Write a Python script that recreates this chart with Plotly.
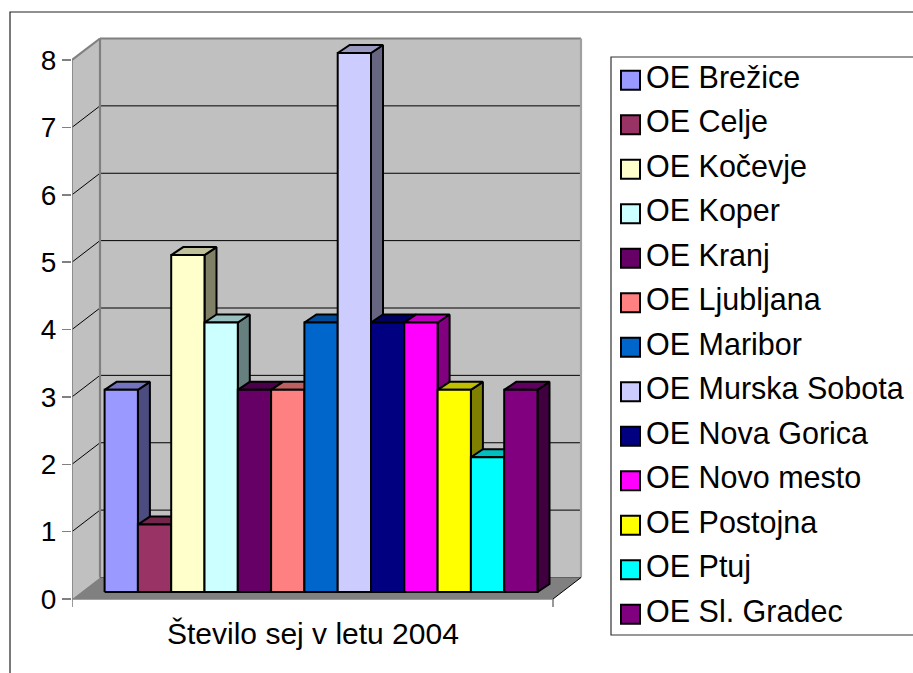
import plotly.graph_objects as go

# ---------------- data ----------------
categories = ["OE Brežice", "OE Celje", "OE Kočevje", "OE Koper", "OE Kranj",
              "OE Ljubljana", "OE Maribor", "OE Murska Sobota", "OE Nova Gorica",
              "OE Novo mesto", "OE Postojna", "OE Ptuj", "OE Sl. Gradec"]
values = [3, 1, 5, 4, 3, 3, 4, 8, 4, 4, 3, 2, 3]
colors = ["#9999FF", "#993366", "#FFFFCC", "#CCFFFF", "#660066", "#FF8080",
          "#0066CC", "#CCCCFF", "#000080", "#FF00FF", "#FFFF00", "#00FFFF", "#800080"]
y_ticks = [0, 1, 2, 3, 4, 5, 6, 7, 8]
x_label = "Število sej v letu 2004"

# ---------------- geometry (pixels / value units) ----------------
W = 913
SY = 678 / 673          # viewport compensation (rendered page is slightly taller)
H = round(673 * SY)


def py(p):
    """target pixel row -> css pixel row"""
    return p * SY


PXU = 67.375 * SY       # pixels per value unit
Y0PX = py(599)          # pixel row of value 0 on front plane
X0, X1 = 72, 553        # front-left / front-right of floor (px)
DX = 28                 # depth shift in px
DY = 21.5 / 67.375      # depth shift in value units
YMAX = max(y_ticks)
BAR_START, BAR_W = 104.6, 33.3
BAR_BASE = 7 / 67.375
BDX, BDY = 12, 8 / 67.375
FONT = "Liberation Sans, Arial, sans-serif"


def shade(hexc, f):
    h = hexc.lstrip("#")
    r, g, b = (int(h[i:i + 2], 16) for i in (0, 2, 4))
    return "rgb(%d,%d,%d)" % (round(r * f), round(g * f), round(b * f))


def poly(pts, fill, line="black", lw=0.0):
    xs = [p[0] for p in pts] + [pts[0][0]]
    ys = [p[1] for p in pts] + [pts[0][1]]
    return go.Scatter(x=xs, y=ys, mode="lines", fill="toself", fillcolor=fill,
                      line=dict(color=line, width=lw), hoverinfo="skip",
                      showlegend=False, xaxis="x", yaxis="y")


def segs(seglist, color, lw):
    xs, ys = [], []
    for (a, b) in seglist:
        xs += [a[0], b[0], None]
        ys += [a[1], b[1], None]
    return go.Scatter(x=xs, y=ys, mode="lines", line=dict(color=color, width=lw),
                      hoverinfo="skip", showlegend=False, xaxis="x", yaxis="y")


fig = go.Figure()

# walls and floor
fig.add_trace(poly([(X0, 0), (X0, YMAX), (X0 + DX, YMAX + DY), (X0 + DX, DY)], "#C0C0C0"))
fig.add_trace(poly([(X0 + DX, DY), (X1 + DX, DY), (X1 + DX, YMAX + DY), (X0 + DX, YMAX + DY)], "#C0C0C0"))
fig.add_trace(poly([(X0, 0), (X1, 0), (X1 + DX, DY), (X0 + DX, DY)], "#808080"))

# gridlines
grid = []
for k in y_ticks[1:-1]:
    grid.append(((X0 + DX, k + DY), (X1 + DX, k + DY)))
    grid.append(((X0, k), (X0 + DX, k + DY)))
fig.add_trace(segs(grid, "black", 1))

# gray wall edges
fig.add_trace(segs([((X0, YMAX), (X0 + DX, YMAX + DY)),
                    ((X0 + DX, YMAX + DY), (X1 + DX, YMAX + DY)),
                    ((X0 + DX, DY), (X0 + DX, YMAX + DY))], "#808080", 2.2))
fig.add_trace(segs([((X1 + DX, YMAX + DY), (X1 + DX, DY))], "#A0A0A0", 2.2))
# floor back / right edges
fig.add_trace(segs([((X0 + DX, DY), (X1 + DX, DY))], "#606060", 1))
fig.add_trace(segs([((X1, 0), (X1 + DX, DY))], "black", 1))
# front axis lines (gray)
tick_down = 8 / 67.375
fig.add_trace(segs([((X0, 0), (X0, YMAX)),
                    ((X0, 0), (X1, 0)),
                    ((X0, 0), (X0, -tick_down)),
                    ((X1, 0), (X1, -tick_down))], "#808080", 1.6))

# bars
for i, (v, c) in enumerate(zip(values, colors)):
    xl = BAR_START + i * BAR_W
    xr = xl + BAR_W
    yb = BAR_BASE
    yt = BAR_BASE + v
    fig.add_trace(poly([(xr, yb), (xr + BDX, yb + BDY), (xr + BDX, yt + BDY), (xr, yt)],
                       shade(c, 0.5), "black", 2))
    fig.add_trace(poly([(xl, yt), (xr, yt), (xr + BDX, yt + BDY), (xl + BDX, yt + BDY)],
                       shade(c, 0.75), "black", 2))
    fig.add_trace(poly([(xl, yb), (xr, yb), (xr, yt), (xl, yt)], c, "black", 2))

# legend (drawn on its own axes, in target pixel rows)
LEG_X0, LEG_Y0, LEG_Y1 = 611, 57, 635
LEG_FIRST, LEG_STEP = 80.3, 44.5
leg_y = [LEG_FIRST + i * LEG_STEP for i in range(len(categories))]
fig.add_trace(go.Scatter(x=[630.5] * len(categories), y=leg_y, mode="markers",
                         marker=dict(symbol="square", size=19, color=colors,
                                     line=dict(color="black", width=2)),
                         hoverinfo="skip", showlegend=False, xaxis="x2", yaxis="y2"))
fig.add_trace(go.Scatter(x=[646] * len(categories), y=leg_y, mode="text",
                         text=categories, textposition="middle right",
                         textfont=dict(family=FONT, size=30.5, color="black"),
                         hoverinfo="skip", showlegend=False, xaxis="x2", yaxis="y2",
                         cliponaxis=False))

ybot_px, ytop_px = py(610), py(36)
fig.update_layout(
    width=W, height=H,
    margin=dict(l=0, r=0, t=0, b=0),
    paper_bgcolor="white", plot_bgcolor="rgba(0,0,0,0)",
    font=dict(family=FONT, color="black"),
    showlegend=False,
    xaxis=dict(domain=[X0 / W, 600 / W], range=[X0, 600], visible=False, fixedrange=True),
    yaxis=dict(domain=[1 - ybot_px / H, 1 - ytop_px / H],
               range=[(Y0PX - ybot_px) / PXU, (Y0PX - ytop_px) / PXU],
               tickvals=y_ticks, ticktext=[str(t) for t in y_ticks],
               ticks="outside", ticklen=9, tickwidth=1.5, tickcolor="#808080",
               tickfont=dict(family=FONT, size=28, color="black"),
               showgrid=False, zeroline=False, showline=False, anchor="x",
               fixedrange=True),
    xaxis2=dict(domain=[LEG_X0 / W, 1.0], range=[LEG_X0, W], visible=False, anchor="y2"),
    yaxis2=dict(domain=[1 - py(LEG_Y1) / H, 1 - py(LEG_Y0) / H], range=[LEG_Y1, LEG_Y0],
                visible=False, anchor="x2"),
    shapes=[
        dict(type="rect", xref="paper", yref="paper", x0=10 / W, x1=1.2,
             y0=-0.2, y1=1 - py(12) / H, line=dict(color="#222222", width=1.2),
             fillcolor="rgba(0,0,0,0)", layer="below"),
        dict(type="rect", xref="paper", yref="paper", x0=LEG_X0 / W, x1=1.2,
             y0=1 - py(LEG_Y1) / H, y1=1 - py(LEG_Y0) / H,
             line=dict(color="#333333", width=1.2),
             fillcolor="rgba(0,0,0,0)", layer="below"),
    ],
    annotations=[
        dict(text=x_label, xref="paper", yref="paper", x=(X0 + X1) / 2 / W,
             y=1 - py(633) / H, xanchor="center", yanchor="middle", showarrow=False,
             font=dict(family=FONT, size=30, color="black")),
    ],
)

fig.write_html(
    "out.html",
    config={"displayModeBar": False, "staticPlot": True},
    post_script=("var s=document.documentElement.style;s.margin='0';s.padding='0';"
                 "s.overflow='hidden';var b=document.body.style;b.margin='0';"
                 "b.padding='0';b.overflow='hidden';"
                 "var gd=document.getElementById('{plot_id}');gd.style.position='fixed';"
                 "gd.style.top='0px';gd.style.left='0px';gd.style.margin='0';"),
)
